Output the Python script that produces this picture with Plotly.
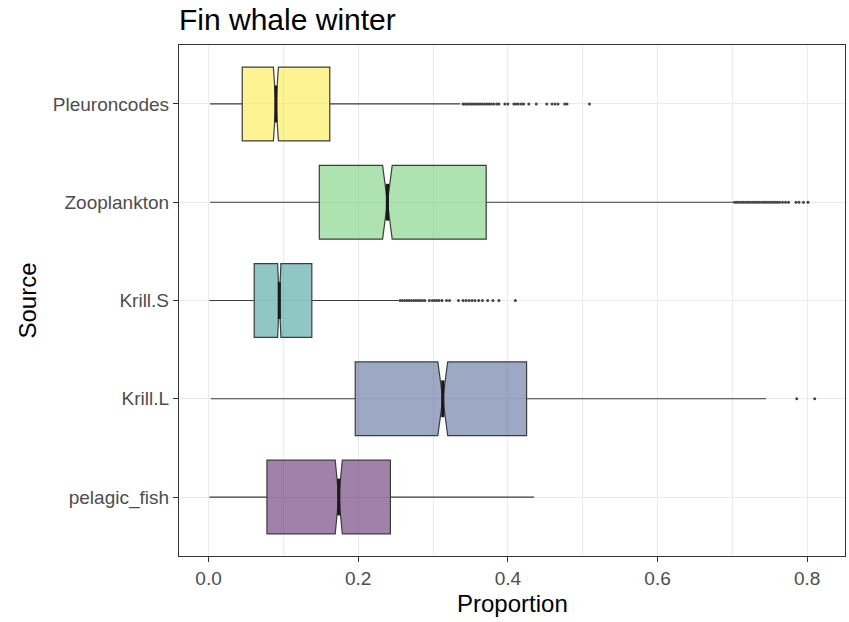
import math
import plotly.graph_objects as go

# Sources, bottom to top on the y axis
sources = ["pelagic_fish", "Krill.L", "Krill.S", "Zooplankton", "Pleuroncodes"]
fill_colors = ["#440154", "#3B528B", "#21908C", "#5DC863", "#FDE725"]

# Box-plot summaries of the posterior proportions
lower_whisker = [0.001, 0.003, 0.001, 0.002, 0.002]
q1 = [0.078, 0.196, 0.061, 0.148, 0.045]
median = [0.174, 0.313, 0.0945, 0.239, 0.090]
q3 = [0.243, 0.425, 0.138, 0.371, 0.162]
upper_whisker = [0.435, 0.745, 0.254, 0.701, 0.336]
n_draws = 3000

# Outlying draws beyond the upper whisker
outliers_pelagic_fish = []
outliers_krill_l = [0.786, 0.810]
outliers_krill_s = [0.256, 0.259, 0.262, 0.265, 0.268, 0.271, 0.274, 0.277, 0.280,
                    0.283, 0.286, 0.289, 0.295, 0.299, 0.302, 0.305, 0.308, 0.312,
                    0.318, 0.322, 0.334, 0.340, 0.344, 0.348, 0.352, 0.356, 0.361,
                    0.366, 0.373, 0.380, 0.388, 0.410]
outliers_zooplankton = [0.703, 0.706, 0.709, 0.712, 0.715, 0.718, 0.721, 0.724, 0.727,
                        0.730, 0.733, 0.736, 0.739, 0.742, 0.745, 0.748, 0.751, 0.754,
                        0.757, 0.760, 0.763, 0.767, 0.771, 0.775, 0.785, 0.789, 0.795,
                        0.801]
outliers_pleuroncodes = [0.340, 0.342, 0.345, 0.347, 0.350, 0.352, 0.355, 0.358, 0.360,
                         0.363, 0.366, 0.369, 0.372, 0.375, 0.378, 0.381, 0.385, 0.388,
                         0.396, 0.400, 0.408, 0.411, 0.414, 0.418, 0.421, 0.428, 0.438,
                         0.452, 0.459, 0.463, 0.467, 0.476, 0.479, 0.509]
outliers = [outliers_pelagic_fish, outliers_krill_l, outliers_krill_s,
            outliers_zooplankton, outliers_pleuroncodes]

x_ticks = [0.0, 0.2, 0.4, 0.6, 0.8]
x_tick_labels = ["0.0", "0.2", "0.4", "0.6", "0.8"]

FONT = "Liberation Sans, Arial, Helvetica, sans-serif"
EDGE = "#333333"
GRID = "#EBEBEB"
BOX_WIDTH = 0.75
NOTCH_WIDTH = 0.5


def rgba(hex_color, alpha):
    h = hex_color.lstrip("#")
    r, g, b = (int(h[i:i + 2], 16) for i in (0, 2, 4))
    return f"rgba({r},{g},{b},{alpha})"


fig = go.Figure()

for i, name in enumerate(sources):
    pos = i + 1
    iqr = q3[i] - q1[i]
    notch = 1.58 * iqr / math.sqrt(n_draws)
    fig.add_trace(go.Box(
        orientation="h",
        y=[pos],
        q1=[q1[i]], median=[median[i]], q3=[q3[i]],
        lowerfence=[lower_whisker[i]], upperfence=[upper_whisker[i]],
        notched=True, notchspan=[notch], notchwidth=NOTCH_WIDTH,
        width=BOX_WIDTH, whiskerwidth=0,
        fillcolor=rgba(fill_colors[i], 0.5),
        line=dict(color="#3C3C3C", width=1.2),
        boxpoints=False, name=name, showlegend=False,
    ))
    # heavier median bar, as in ggplot's fattened median
    half = BOX_WIDTH / 2 * NOTCH_WIDTH
    fig.add_trace(go.Scatter(
        x=[median[i], median[i]], y=[pos - half, pos + half],
        mode="lines", line=dict(color="#1A1A1A", width=3.2),
        showlegend=False, hoverinfo="skip",
    ))
    if outliers[i]:
        fig.add_trace(go.Scatter(
            x=outliers[i], y=[pos] * len(outliers[i]),
            mode="markers",
            marker=dict(color="#444444", size=3, line=dict(width=0)),
            showlegend=False, name=name,
        ))

fig.update_layout(
    width=849, height=622,
    margin=dict(l=179, r=4, t=45, b=66),
    paper_bgcolor="white", plot_bgcolor="white",
    font=dict(family=FONT, color="#4D4D4D", size=19),
    title=dict(text="Fin whale winter", x=179 / 849, xanchor="left",
               y=1 - 19 / 622, yanchor="middle", yref="container",
               font=dict(family=FONT, size=30, color="black")),
    boxmode="overlay",
    annotations=[
        dict(text="Proportion", xref="paper", yref="paper", x=0.5, y=-0.093,
             xanchor="center", yanchor="middle", showarrow=False,
             font=dict(family=FONT, size=24, color="black")),
        dict(text="Source", xref="paper", yref="paper", x=(27 - 179) / 666, y=0.5,
             xanchor="center", yanchor="middle", textangle=-90, showarrow=False,
             font=dict(family=FONT, size=24, color="black")),
    ],
)

fig.update_xaxes(
    range=[-0.0395, 0.8505], tickvals=x_ticks, ticktext=x_tick_labels,
    showgrid=True, gridcolor=GRID, gridwidth=1.2, zeroline=False,
    minor=dict(dtick=0.1, tick0=0, showgrid=True, gridcolor=GRID, gridwidth=0.6),
    showline=True, mirror=True, linecolor=EDGE, linewidth=1.3,
    ticks="outside", ticklen=5, tickwidth=1.1, tickcolor=EDGE,
    tickfont=dict(size=19, color="#4D4D4D"),
)
fig.update_yaxes(
    range=[0.4, 5.6], tickvals=list(range(1, len(sources) + 1)), ticktext=sources,
    showgrid=True, gridcolor=GRID, gridwidth=1.2, zeroline=False,
    showline=True, mirror=True, linecolor=EDGE, linewidth=1.3,
    ticks="outside", ticklen=5, tickwidth=1.1, tickcolor=EDGE,
    tickfont=dict(size=19, color="#4D4D4D"),
)

fig.write_html("out.html")
